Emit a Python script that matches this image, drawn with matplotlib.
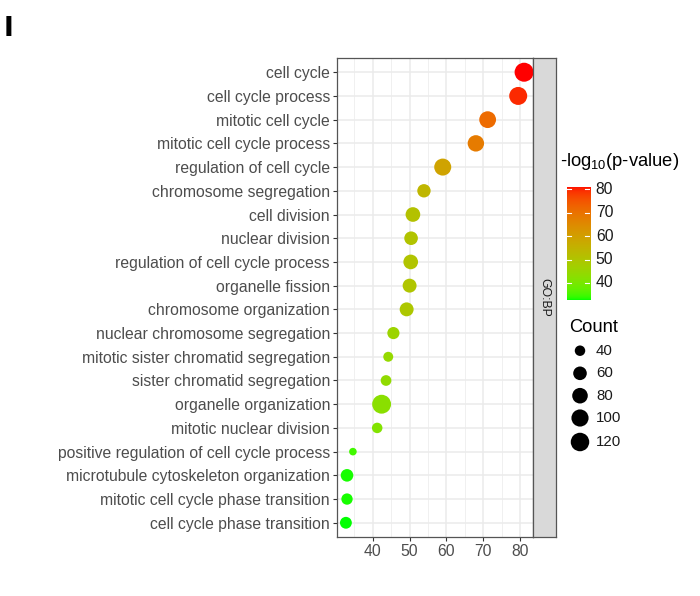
import numpy as np
import matplotlib
matplotlib.use("Agg")
import matplotlib.pyplot as plt

plt.rcParams['font.family'] = ['Liberation Sans', 'DejaVu Sans']
plt.rcParams['mathtext.default'] = 'regular'

terms = ["cell cycle", "cell cycle process", "mitotic cell cycle",
         "mitotic cell cycle process", "regulation of cell cycle",
         "chromosome segregation", "cell division", "nuclear division",
         "regulation of cell cycle process", "organelle fission",
         "chromosome organization", "nuclear chromosome segregation",
         "mitotic sister chromatid segregation", "sister chromatid segregation",
         "organelle organization", "mitotic nuclear division",
         "positive regulation of cell cycle process",
         "microtubule cytoskeleton organization",
         "mitotic cell cycle phase transition", "cell cycle phase transition"]
neg_log10_p = [81.1, 79.5, 71.2, 68.0, 59.0, 53.9, 50.9, 50.4, 50.3, 50.0,
               49.2, 45.6, 44.2, 43.6, 42.4, 41.2, 34.6, 33.0, 33.0, 32.7]
counts = [128, 112, 95, 90, 98, 58, 70, 60, 70, 63,
          63, 49, 38, 41, 126, 40, 34, 52, 44, 47]
x_ticks = [40, 50, 60, 70, 80]
color_ticks = [40, 50, 60, 70, 80]
count_breaks = [40, 60, 80, 100, 120]
facet = "GO:BP"

W, H, DPI = 700, 596, 100


# green -> red gradient interpolated in CIELAB
WHITE = np.array([0.95047, 1.0, 1.08883])
M = np.array([[0.4124, 0.3576, 0.1805],
              [0.2126, 0.7152, 0.0722],
              [0.0193, 0.1192, 0.9505]])


def rgb2lab(rgb):
    rgb = np.asarray(rgb, float)
    lin = np.where(rgb <= 0.04045, rgb / 12.92, ((rgb + 0.055) / 1.055) ** 2.4)
    t = (M @ lin) / WHITE
    f = np.where(t > 0.008856, np.cbrt(t), 7.787 * t + 16 / 116)
    return np.array([116 * f[1] - 16, 500 * (f[0] - f[1]), 200 * (f[1] - f[2])])


def lab2rgb(lab):
    L, a, b = lab
    fy = (L + 16) / 116
    fx = fy + a / 500
    fz = fy - b / 200
    f = np.array([fx, fy, fz])
    t = np.where(f ** 3 > 0.008856, f ** 3, (f - 16 / 116) / 7.787) * WHITE
    lin = np.linalg.inv(M) @ t
    lin = np.clip(lin, 0, 1)
    rgb = np.where(lin <= 0.0031308, lin * 12.92, 1.055 * lin ** (1 / 2.4) - 0.055)
    return np.clip(rgb, 0, 1)


LOW, HIGH = rgb2lab([0, 1, 0]), rgb2lab([1, 0, 0])
cmin, cmax = min(neg_log10_p), max(neg_log10_p)


def colour(v):
    t = (v - cmin) / (cmax - cmin)
    return lab2rgb(LOW + (HIGH - LOW) * t)


smin, smax = min(counts), max(counts)


def dot_area(c):
    d_px = 7.6 + 11.4 * np.sqrt((c - smin) / (smax - smin))
    return (d_px * 72 / DPI) ** 2


fig = plt.figure(figsize=(W / DPI, H / DPI), dpi=DPI)

# main panel
pl, pr, pt, pb = 337, 533, 58, 537
ax = fig.add_axes([pl / W, 1 - pb / H, (pr - pl) / W, (pb - pt) / H])
n = len(terms)
ypos = np.arange(n)[::-1]
ax.scatter(neg_log10_p, ypos, s=[dot_area(c) for c in counts],
           c=[colour(v) for v in neg_log10_p], edgecolors='none', zorder=3)

span = cmax - cmin
ax.set_xlim(cmin - 0.05 * span, cmax + 0.05 * span)
ax.set_ylim(-0.6, n - 0.4)
ax.set_xticks(x_ticks)
ax.set_xticks([35, 45, 55, 65, 75], minor=True)
ax.set_yticks(ypos)
ax.set_yticklabels(terms)
ax.grid(True, which='major', color='#EBEBEB', lw=1.1, zorder=0)
ax.grid(True, which='minor', axis='x', color='#F0F0F0', lw=0.7, zorder=0)
ax.set_axisbelow(True)
ax.tick_params(axis='both', which='major', labelsize=11.35, labelcolor='#4D4D4D',
               color='#333333', length=3, width=0.8, pad=2)
ax.tick_params(axis='x', which='minor', length=0)
for s in ax.spines.values():
    s.set_color('#555555')
    s.set_linewidth(0.9)

# facet strip
sx0, sx1 = 533, 556
sax = fig.add_axes([sx0 / W, 1 - pb / H, (sx1 - sx0) / W, (pb - pt) / H])
sax.set_facecolor('#D9D9D9')
sax.set_xticks([])
sax.set_yticks([])
for s in sax.spines.values():
    s.set_color('#555555')
    s.set_linewidth(0.9)
sax.text(0.5, 0.5, facet, rotation=-90, ha='center', va='center',
         fontsize=8.8, color='#1A1A1A', transform=sax.transAxes)

# colour bar
bx0, bx1, by0, by1 = 566.7, 590, 186.7, 300
cax = fig.add_axes([bx0 / W, 1 - by1 / H, (bx1 - bx0) / W, (by1 - by0) / H])
grad = np.linspace(cmin, cmax, 300)
cax.imshow(np.array([colour(v) for v in grad])[:, None, :], aspect='auto',
           origin='lower', extent=[0, 1, cmin, cmax])
cax.set_xlim(0, 1)
cax.set_ylim(cmin, cmax)
cax.axis('off')
for v in color_ticks:
    cax.plot([0, 0.2], [v, v], color='white', lw=0.8)
    cax.plot([0.8, 1], [v, v], color='white', lw=0.8)
    cax.text(1.25, v, str(v), ha='left', va='center', fontsize=11.3,
             color='#1A1A1A', transform=cax.transData, clip_on=False)

# overlay in pixel coordinates for legend text and count keys
lax = fig.add_axes([0, 0, 1, 1], zorder=-1)
lax.set_xlim(0, W)
lax.set_ylim(H, 0)
lax.axis('off')
lax.text(560, 162, "-log$_{10}$(p-value)", ha='left', va='center',
         fontsize=13.2, color='black')
lax.text(569, 327, "Count", ha='left', va='center', fontsize=13.2, color='black')
key_y = [350.7, 373.3, 395.7, 418, 442]
for c, yk in zip(count_breaks, key_y):
    lax.scatter([580], [yk], s=dot_area(c), color='black', edgecolors='none')
    lax.text(596, yk, str(c), ha='left', va='center', fontsize=10.8, color='#1A1A1A')

lax.text(4, 29, "I", ha='left', va='center', fontsize=19, fontweight='bold',
         family='DejaVu Sans')

fig.savefig("out.png", dpi=DPI)
